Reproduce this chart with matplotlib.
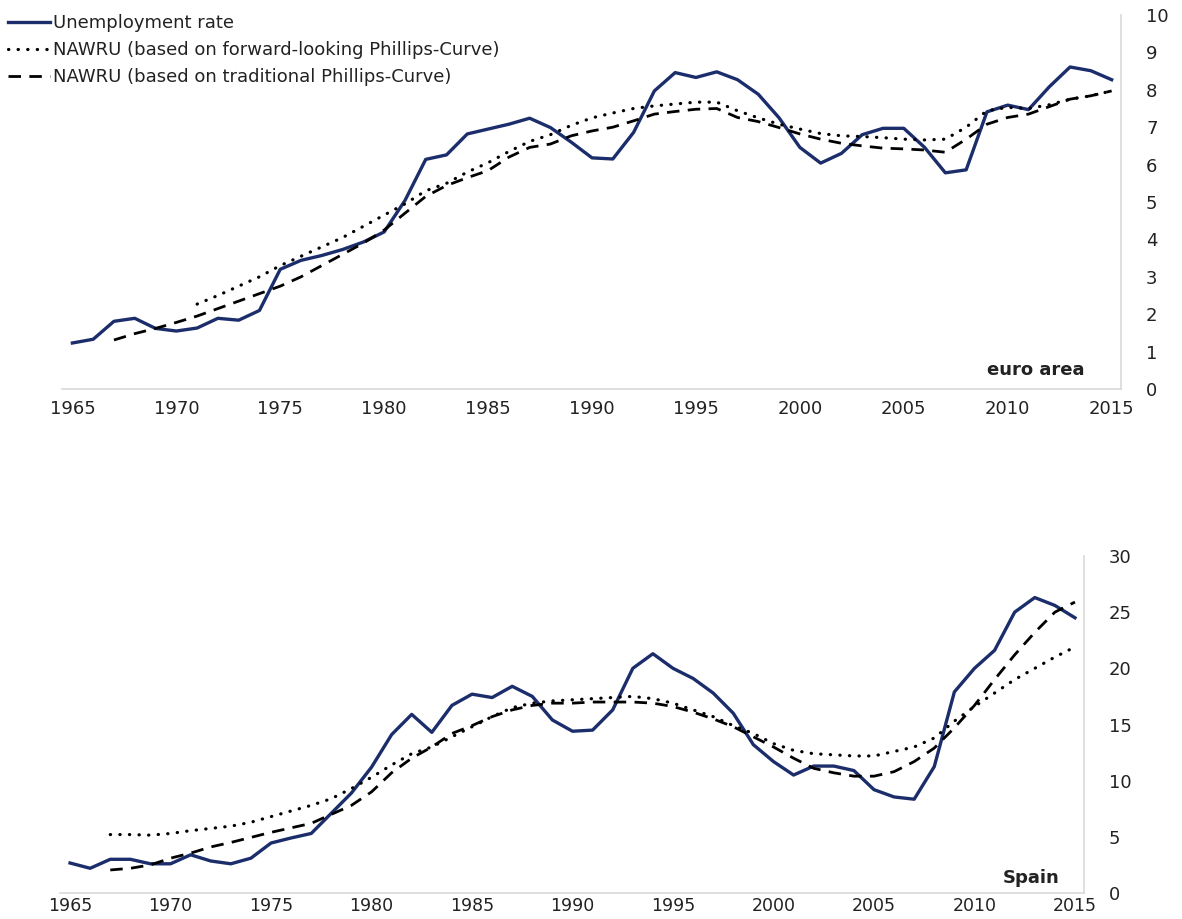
'''
Unemployment rate and NAWRU estimates,
euro area and Spain, 1965-2015
'''

import numpy as np
import matplotlib.pyplot as plt

#################################

# years
years = np.arange(1965, 2016)
yearsFL_ea = np.arange(1971, 2016)
yearsTR_ea = np.arange(1967, 2016)
yearsFL_es = np.arange(1967, 2016)
yearsTR_es = np.arange(1967, 2016)

# euro area
unemp_ea = [1.23, 1.33, 1.81, 1.89, 1.62, 1.55, 1.63, 1.89, 1.84, 2.10,
            3.20, 3.44, 3.57, 3.73, 3.93, 4.20, 5.04, 6.14, 6.26, 6.82,
            6.95, 7.08, 7.24, 6.99, 6.60, 6.18, 6.15, 6.86, 7.97, 8.46,
            8.33, 8.48, 8.27, 7.88, 7.25, 6.46, 6.04, 6.30, 6.80, 6.97,
            6.97, 6.46, 5.78, 5.86, 7.41, 7.59, 7.47, 8.08, 8.61, 8.51,
            8.27]
nawruFL_ea = [2.27, 2.50, 2.75, 3.00, 3.30, 3.55, 3.80, 4.05, 4.35, 4.65,
              4.95, 5.30, 5.50, 5.80, 6.05, 6.35, 6.62, 6.80, 7.05, 7.25,
              7.38, 7.50, 7.57, 7.62, 7.67, 7.67, 7.44, 7.25, 7.08, 6.95,
              6.83, 6.77, 6.75, 6.72, 6.68, 6.66, 6.68, 7.00, 7.44, 7.53,
              7.50, 7.60, 7.75, 7.84, 7.97]
nawruTR_ea = [1.31, 1.48, 1.62, 1.78, 1.95, 2.15, 2.35, 2.55, 2.75, 3.00,
              3.30, 3.60, 3.90, 4.25, 4.70, 5.15, 5.44, 5.65, 5.84, 6.20,
              6.46, 6.55, 6.77, 6.90, 7.00, 7.17, 7.35, 7.42, 7.48, 7.50,
              7.26, 7.15, 6.99, 6.82, 6.68, 6.57, 6.50, 6.44, 6.42, 6.39,
              6.33, 6.68, 7.08, 7.26, 7.35, 7.55, 7.75, 7.84, 7.97]

# Spain
unemp_es = [2.67, 2.20, 3.00, 3.00, 2.60, 2.60, 3.40, 2.85, 2.60, 3.10,
            4.45, 4.90, 5.30, 7.10, 8.90, 11.2, 14.1, 15.9, 14.3, 16.7,
            17.7, 17.4, 18.4, 17.5, 15.4, 14.4, 14.5, 16.3, 20.0, 21.3,
            20.0, 19.1, 17.8, 16.0, 13.2, 11.7, 10.5, 11.3, 11.3, 10.9,
            9.20, 8.55, 8.35, 11.25, 17.9, 20.0, 21.6, 25.0, 26.3, 25.6,
            24.5]
nawruFL_es = [5.20, 5.20, 5.15, 5.30, 5.55, 5.75, 5.95, 6.30, 6.80, 7.30,
              7.80, 8.40, 9.30, 10.3, 11.4, 12.4, 13.0, 13.9, 14.8, 15.7,
              16.5, 16.9, 17.1, 17.2, 17.3, 17.4, 17.5, 17.3, 16.9, 16.3,
              15.7, 14.9, 14.2, 13.3, 12.7, 12.4, 12.3, 12.2, 12.2, 12.6,
              13.0, 13.8, 15.3, 16.6, 17.8, 19.0, 20.0, 21.0, 21.9]
nawruTR_es = [2.05, 2.20, 2.50, 3.10, 3.55, 4.10, 4.50, 4.95, 5.40, 5.80,
              6.20, 7.00, 7.80, 9.00, 10.7, 12.0, 13.0, 14.2, 14.9, 15.7,
              16.3, 16.7, 16.9, 16.9, 17.0, 17.0, 17.0, 16.9, 16.6, 16.1,
              15.5, 14.8, 13.9, 13.0, 12.0, 11.1, 10.7, 10.4, 10.4, 10.8,
              11.7, 12.9, 14.7, 16.7, 19.0, 21.2, 23.2, 25.0, 25.9]

labels = ['Unemployment rate',
          'NAWRU (based on forward-looking Phillips-Curve)',
          'NAWRU (based on traditional Phillips-Curve)']

navy = '#1b2d6b'
grey = '#d9d9d9'
txt = '#222222'
fs = 13


def draw_panel(ax, unemp, yFL, fl, yTR, tr, ymax, ystep, name, namex, namey,
               xpad, xfs):
  '''draw one panel'''
  l1, = ax.plot(years, unemp, color=navy, lw=2.4)
  l2, = ax.plot(yFL, fl, color='black', lw=2.3, linestyle=(0, (0.1, 2.9)),
                dash_capstyle='round')
  l3, = ax.plot(yTR, tr, color='black', lw=2.0, linestyle=(0, (4.5, 3.0)))
  ax.set_xlim(1964.5, 2015.45)
  ax.set_ylim(0, ymax)
  ax.set_xticks(np.arange(1965, 2016, 5))
  ax.set_yticks(np.arange(0, ymax + 1, ystep))
  ax.yaxis.tick_right()
  ax.tick_params(length=0, labelsize=fs, colors=txt)
  ax.tick_params(axis='y', pad=18)
  ax.tick_params(axis='x', pad=xpad, labelsize=xfs)
  for s in ['left', 'top']:
    ax.spines[s].set_visible(False)
  for s in ['right', 'bottom']:
    ax.spines[s].set_color(grey)
    ax.spines[s].set_linewidth(1.2)
  ax.text(namex, namey, name, transform=ax.transAxes, ha='right',
          va='center', fontsize=fs, fontweight='bold', color=txt)
  return [l1, l2, l3]


if __name__ == "__main__":
  '''Main block'''

  fig = plt.figure(figsize=(11.82, 9.19), dpi=100)
  ax1 = fig.add_axes([62/1182, 1-389/919, (1121-62)/1182, (389-15)/919])
  ax2 = fig.add_axes([60/1182, 1-893/919, (1084-60)/1182, (893-556)/919])

  lines = draw_panel(ax1, unemp_ea, yearsFL_ea, nawruFL_ea, yearsTR_ea,
                     nawruTR_ea, 10, 1, 'euro area', 0.966, 0.051, 8, fs)
  draw_panel(ax2, unemp_es, yearsFL_es, nawruFL_es, yearsTR_es,
             nawruTR_es, 30, 5, 'Spain', 0.976, 0.045, 3, 12.5)

  fig.legend(lines, labels, loc='upper left',
             bbox_to_anchor=(8/1182, 1-14/919), frameon=False,
             fontsize=fs, handlelength=2.35, handletextpad=0.12,
             labelspacing=0.5, borderpad=0, borderaxespad=0,
             labelcolor=txt)

  plt.savefig('out.png', dpi=100)
